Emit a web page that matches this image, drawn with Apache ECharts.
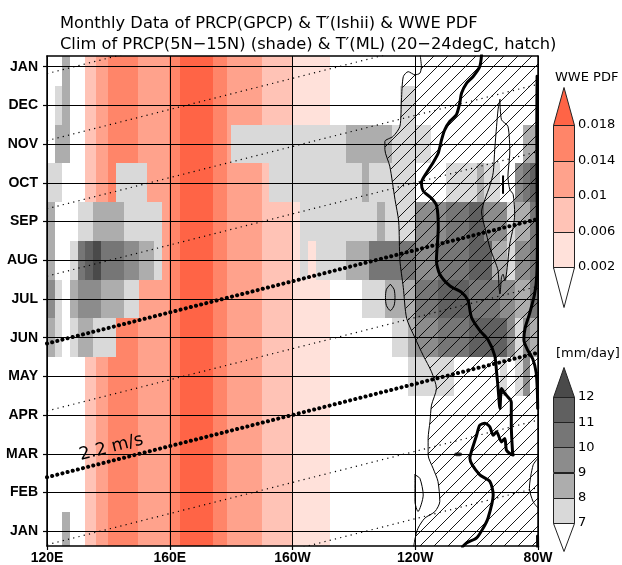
<!DOCTYPE html>
<html>
<head>
<meta charset="utf-8">
<script src="https://cdn.jsdelivr.net/npm/echarts@6/dist/echarts.min.js"></script>
<style>
html, body { margin: 0; padding: 0; background: #fff; }
#chart { width: 622px; height: 565px; }
</style>
</head>
<body>
<div id="chart"></div>
<script>
// ---------- axes ----------
const monthLabels = ['JAN','FEB','MAR','APR','MAY','JUN','JUL','AUG','SEP','OCT','NOV','DEC','JAN'];
const monthTicks = [0,1,2,3,4,5,6,7,8,9,10,11,12];
const lonLabels = ['120E','160E','160W','120W','80W'];
const lonMin = 120, lonMax = 280, lonStep = 40;
const monthMin = -0.378, monthMax = 12.275;

// ---------- WWE PDF (longitude bands) ----------
const wweBandEdges = [132.5, 136, 140, 149.5, 159.8, 163.5, 174.2, 178.7, 190.1, 199.8, 212.2];
const wwePdf = [0.008, 0.012, 0.016, 0.012, 0.016, 0.020, 0.016, 0.012, 0.008, 0.004];
const wweLevels = [0.002, 0.006, 0.010, 0.014, 0.018];
const wweColors = ['#ffe1da', '#ffc3b6', '#ffa28c', '#ff8569', '#ff6446'];

// ---------- PRCP climatology, 5N-15N, 2.5 deg columns from 120E ----------
const prcpLon0 = 120, prcpDLon = 2.5;
const prcpLevels = [7, 8, 9, 10, 11, 12];
const prcpColors = ['#d9d9d9', '#adadad', '#8c8c8c', '#767676', '#606060', '#4a4a4a'];
const prcpJan = [6,6,8.5,6,6,6,6,6, 6,6,6,6,6,6,6,6, 6,6,6,6,6,6,6,6, 6,6,6,6,6,6,6,6, 6,6,6,6,6,6,6,6, 6,6,6,6,6,6,6,6, 6,6,6,6,6,6,6,6, 6,6,6,6,6,6,6,6];
const prcpFeb = [6,6,6,6,6,6,6,6, 6,6,6,6,6,6,6,6, 6,6,6,6,6,6,6,6, 6,6,6,6,6,6,6,6, 6,6,6,6,6,6,6,6, 6,6,6,6,6,6,6,6, 6,6,6,6,6,6,6,6, 6,6,6,6,6,6,6,6];
const prcpMar = [6,6,6,6,6,6,6,6, 6,6,6,6,6,6,6,6, 6,6,6,6,6,6,6,6, 6,6,6,6,6,6,6,6, 6,6,6,6,6,6,6,6, 6,6,6,6,6,6,6,6, 6,6,6,6,6,6,6,6, 6,6,6,6,6,6,6,6];
const prcpApr = [6,6,6,6,6,6,6,6, 6,6,6,6,6,6,6,6, 6,6,6,6,6,6,6,6, 6,6,6,6,6,6,6,6, 6,6,6,6,6,6,6,6, 6,6,6,6,6,6,6,6, 6,6,6,6,6,6,6,6, 6,6,6,6,6,6,6,6];
const prcpMay = [6,6,6,6,6,6,6,6, 6,6,6,6,6,6,6,6, 6,6,6,6,6,6,6,6, 6,6,6,6,6,6,6,6, 6,6,6,6,6,6,6,6, 6,6,6,6,6,6,6,7.5, 7.5,7.5,7.5,7.5,7.5,6,6,6, 6,6,6,7.5,6,7.5,9.5,6];
const prcpJun = [8.5,7.5,6,7.5,8.5,8.5,7.5,7.5, 7.5,6,6,6,6,6,6,6, 6,6,6,6,6,6,6,6, 6,6,6,6,6,6,6,6, 6,6,6,6,6,6,6,6, 6,6,6,6,6,7.5,7.5,8.5, 9.5,9.5,9.5,10,10,10.5,10.5,11.5, 11.5,11.5,11.5,11.5,9.5,7.5,9.5,8.5];
const prcpJul = [9.5,7.5,6,8.5,9.5,9.5,9.5,8.5, 8.5,8.5,7.5,7.5,6,6,6,6, 6,6,6,6,6,6,6,6, 6,6,6,6,6,6,6,6, 6,6,6,6,6,6,6,6, 6,7.5,7.5,7.5,8.5,8.5,8.5,8.5, 10,10,10,11.5,11.5,11.5,11.5,10.5, 10.5,10.5,10,9,9,8.5,8.5,10];
const prcpAug = [8.5,6,6,7.5,10.5,11.5,12.5,10.5, 10.5,10.5,9.5,9.5,8.5,8.5,7.5,6, 6,6,6,6,6,6,6,6, 6,6,6,6,6,6,6,6, 6,7.5,6,7.5,7.5,7.5,7.5,8.5, 8.5,8.5,10,10,10,10,10,10, 9.5,9.5,9.5,10.5,10.5,10.5,10.5,11.5, 11.5,11.5,8.5,8.5,7.5,9.5,9.5,10];
const prcpSep = [8.5,6,6,6,7.5,7.5,8.5,8.5, 8.5,8.5,7.5,7.5,7.5,7.5,7.5,6, 6,6,6,6,6,6,6,6, 6,6,6,6,6,6,6,6, 6,7.5,7.5,7.5,7.5,7.5,7.5,7.5, 7.5,7.5,7.5,8.5,7.5,7.5,7.5,7.5, 9,9,9,9,10,10,10,11.5, 11.5,9.5,9.5,9.5,7.5,8.5,8.5,10];
const prcpOct = [7.5,7.5,6,6,6,6,6,6, 6,7.5,7.5,7.5,7.5,6,6,6, 6,6,6,6,6,6,6,6, 6,6,6,6,6,7.5,7.5,7.5, 7.5,7.5,7.5,7.5,7.5,7.5,7.5,7.5, 7.5,8.5,7.5,7.5,7.5,7.5,7.5,7.5, 6,6,6,6,7.5,7.5,7.5,7.5, 8.5,7.5,7.5,6,6,9.5,10.5,11];
const prcpNov = [6,8.5,8.5,6,6,6,6,6, 6,6,6,6,6,6,6,6, 6,6,6,6,6,6,6,6, 7.5,7.5,7.5,7.5,7.5,7.5,7.5,7.5, 7.5,7.5,7.5,7.5,7.5,7.5,7.5,8.5, 8.5,8.5,8.5,8.5,8.5,7.5,7.5,7.5, 7.5,7.5,6,6,6,6,6,6, 6,6,6,6,6,6,8,8];
const prcpDec = [6,7.5,8.5,6,6,6,6,6, 6,6,6,6,6,6,6,6, 6,6,6,6,6,6,6,6, 6,6,6,6,6,6,6,6, 6,6,6,6,6,6,6,6, 6,6,6,6,6,6,7.5,7.5, 6,6,6,6,6,6,6,6, 6,6,6,6,6,6,6,6];

// ---------- 2.2 m/s phase lines ----------
const phaseSlope = 0.0201;            // months per degree of longitude
const thinPhaseStarts = [-2.085, -0.345, 3.11, 6.59, 8.33, 10.09, 11.82];
const thickPhaseStarts = [1.397, 4.85];
const phaseLabelLon = 142;

// ---------- T' contours [lon, month] ----------
const thickContourMain = [[261.6,12.3],[261.0,12.0],[258.8,11.74],[256.7,11.57],[255.1,11.32],[254.5,11.06],[253.4,10.76],[251.3,10.59],[249.6,10.37],[248.6,10.12],[247.5,9.77],[245.8,9.52],[243.7,9.26],[242.0,9.0],[242.6,8.79],[245.3,8.6],[247.0,8.4],[247.5,7.84],[246.9,6.99],[248.0,6.64],[251.3,6.34],[255.1,6.17],[257.2,5.96],[258.3,5.53],[261.0,5.19],[263.7,4.95],[265.9,4.54],[266.5,4.12],[267.0,3.69],[267.6,3.17],[268.1,3.69],[269.2,3.56],[270.2,3.47],[271.3,3.34],[271.3,2.74],[271.7,2.06],[271.9,1.97],[270.8,2.01],[269.7,2.10],[269.2,2.40],[268.1,2.31],[266.5,2.57],[265.4,2.48],[264.3,2.70],[262.7,2.79],[261.0,2.74],[260.0,2.48],[258.3,2.06],[257.8,1.89],[261.0,1.46],[264.3,1.29],[265.4,0.94],[263.7,0.34],[262.1,0.08],[260.0,-0.17],[256.7,-0.30],[255.4,-0.4]];
const thickContourEast = [[279.7,11.75],[279.6,10.5],[279.7,9.0],[279.8,7.5],[279.6,6.6],[278.9,6.13],[277.2,5.61],[275.8,5.25],[275.4,4.95],[276.5,4.7],[278.3,4.45],[279.4,4.1],[279.8,3.6],[279.9,3.17]];
const thickContourStub = [[279.85,-0.12],[279.9,-0.4]];
const thinContourWest = [[241.6,12.3],[242.0,12.0],[241.5,11.83],[239.9,11.79],[237.7,11.87],[236.1,11.74],[235.5,11.14],[235.0,10.46],[232.8,10.2],[230.1,10.07],[230.1,9.86],[231.7,9.43],[233.4,8.57],[234.6,8.0],[235.0,7.0],[236.1,6.3],[237.2,5.5],[239.9,5.0],[242.6,4.54],[245.3,4.12],[246.9,3.69],[245.3,3.26],[244.8,2.83],[244.2,2.4],[244.2,1.97],[245.8,1.63],[247.4,1.29],[248.0,0.77],[246.4,0.51],[243.1,0.34],[240.9,0.08],[239.9,-0.2],[239.5,-0.4]];
const thinContourLoop = [[267.6,11.15],[268.1,10.63],[270.2,10.46],[270.8,9.77],[270.2,9.17],[270.8,8.83],[271.9,8.7],[272.4,8.19],[271.9,7.84],[270.8,7.42],[270.2,6.99],[269.7,6.64],[269.2,6.47],[268.6,6.64],[268.1,6.56],[267.6,6.13],[267.3,6.3],[267.0,6.73],[265.9,6.99],[264.3,7.33],[262.7,7.84],[261.6,8.25],[262.7,8.57],[264.3,8.92],[265.4,9.26],[265.9,9.86],[266.5,10.46],[267.0,10.9],[267.6,11.15]];
const thinContourSmall = [[268.6,9.17],[268.6,8.74]];
const thinContourOval = [[231.9,6.38],[233.1,6.25],[233.4,6.04],[233.1,5.83],[231.9,5.70],[230.6,5.83],[230.3,6.04],[230.6,6.25],[231.9,6.38]];
const thinContourDip = [[239.9,1.46],[241.5,1.37],[242.6,0.94],[240.9,0.51],[239.9,0.77],[239.9,1.2],[239.9,1.46]];
const thinContourCoast = [[280,1.89],[278.4,1.71],[277.2,1.11],[278.4,0.77],[280,0.6]];
const warmSpot = [[254.0, 1.99]];

// ---------- helpers ----------
function levelColor(v, levels, colors) {
  let c = null;
  for (let k = 0; k < levels.length; k++) if (v >= levels[k]) c = colors[k];
  return c;
}
function clampRect(a, b, cs) {
  const x0 = Math.max(cs.x, Math.round(Math.min(a[0], b[0])));
  const x1 = Math.min(cs.x + cs.width, Math.round(Math.max(a[0], b[0])));
  const y0 = Math.max(cs.y, Math.round(Math.min(a[1], b[1])));
  const y1 = Math.min(cs.y + cs.height, Math.round(Math.max(a[1], b[1])));
  return { x: x0, y: y0, width: Math.max(0, x1 - x0), height: Math.max(0, y1 - y0) };
}
function makeHatch() {
  const c = document.createElement('canvas');
  c.width = 14; c.height = 14;
  const g = c.getContext('2d');
  g.strokeStyle = '#000'; g.lineWidth = 0.9;
  g.beginPath();
  g.moveTo(-1, 15); g.lineTo(15, -1);
  g.moveTo(-1, 1); g.lineTo(1, -1);
  g.moveTo(13, 15); g.lineTo(15, 13);
  g.stroke();
  return c;
}
const hatchPattern = { image: makeHatch(), repeat: 'repeat' };

// band data
const bandData = wwePdf.map((p, i) => [wweBandEdges[i], wweBandEdges[i + 1], p]);
// cell data, JAN repeated at the top
const prcpRows = [prcpJan, prcpFeb, prcpMar, prcpApr, prcpMay, prcpJun, prcpJul, prcpAug, prcpSep, prcpOct, prcpNov, prcpDec];
const cellData = [];
for (let m = 0; m <= 12; m++) {
  prcpRows[m % 12].forEach((v, i) => {
    if (v >= prcpLevels[0]) cellData.push([prcpLon0 + i * prcpDLon, m, v]);
  });
}

const FONT_AX = "'Liberation Sans Narrow', 'Liberation Sans', Arial, sans-serif";
const FONT_TX = "'DejaVu Sans', sans-serif";

const series = [];
// WWE PDF bands
series.push({
  type: 'custom', xAxisIndex: 0, yAxisIndex: 0, z: 1, silent: true,
  data: bandData,
  renderItem: (params, api) => {
    const a = api.coord([api.value(0), monthMax]);
    const b = api.coord([api.value(1), monthMin]);
    return { type: 'rect', shape: clampRect(a, b, params.coordSys),
             style: { fill: levelColor(api.value(2), wweLevels, wweColors) } };
  }
});
// PRCP cells
series.push({
  type: 'custom', xAxisIndex: 0, yAxisIndex: 0, z: 2, silent: true,
  data: cellData,
  renderItem: (params, api) => {
    const lon = api.value(0), m = api.value(1);
    const a = api.coord([lon, m + 0.5]);
    const b = api.coord([lon + prcpDLon, m - 0.5]);
    return { type: 'rect', shape: clampRect(a, b, params.coordSys),
             style: { fill: levelColor(api.value(2), prcpLevels, prcpColors) } };
  }
});
// hatch east of the western contour
series.push({
  type: 'custom', xAxisIndex: 0, yAxisIndex: 0, z: 3, silent: true,
  data: [[0]],
  renderItem: (params, api) => {
    const cs = params.coordSys;
    const pts = thinContourWest.map(p => api.coord(p));
    pts.push(api.coord([lonMax, monthMin]));
    pts.push(api.coord([lonMax, monthMax]));
    const cl = pts.map(p => [Math.min(Math.max(p[0], cs.x), cs.x + cs.width), Math.min(Math.max(p[1], cs.y), cs.y + cs.height)]);
    return { type: 'polygon', shape: { points: cl, smooth: 0 }, style: { fill: hatchPattern, stroke: null } };
  }
});
// contours
function contour(data, width) {
  series.push({ type: 'line', xAxisIndex: 0, yAxisIndex: 0, z: 4, silent: true, data: data,
    showSymbol: false, symbol: 'none', smooth: 0.25, clip: true,
    lineStyle: { color: '#000', width: width, join: 'round', cap: 'round' } });
}
contour(thickContourMain, 3);
contour(thickContourEast, 3);
contour(thickContourStub, 3);
contour(thinContourWest, 1);
contour(thinContourLoop, 1);
contour(thinContourSmall, 2);
contour(thinContourOval, 1);
contour(thinContourDip, 1);
contour(thinContourCoast, 1);
series.push({ type: 'scatter', xAxisIndex: 0, yAxisIndex: 0, z: 4, silent: true, data: warmSpot,
  symbol: 'circle', symbolSize: [8, 4], itemStyle: { color: '#000' } });

// phase lines
function phaseLine(m0, thick) {
  series.push({ type: 'line', xAxisIndex: 0, yAxisIndex: 0, z: 5, silent: true, clip: true,
    showSymbol: false, symbol: 'none',
    data: [[lonMin, m0], [lonMax, m0 + phaseSlope * (lonMax - lonMin)]],
    lineStyle: thick ? { color: '#000', width: 4, type: [0.1, 5.2], cap: 'round' }
                     : { color: '#000', width: 1.2, type: [1.2, 4.2], cap: 'butt' } });
}
thinPhaseStarts.forEach(m => phaseLine(m, false));
thickPhaseStarts.forEach(m => phaseLine(m, true));
// phase speed label along the lower thick line
series.push({
  type: 'custom', xAxisIndex: 0, yAxisIndex: 0, z: 6, silent: true,
  data: [[phaseLabelLon, thickPhaseStarts[0] + phaseSlope * (phaseLabelLon - lonMin)]],
  renderItem: (params, api) => {
    const p = api.coord([api.value(0), api.value(1)]);
    const q = api.coord([api.value(0) + 10, api.value(1) + phaseSlope * 10]);
    const ang = Math.atan2(p[1] - q[1], q[0] - p[0]);
    return { type: 'text', x: p[0], y: p[1], rotation: ang,
      style: { text: '2.2 m/s', x: 0, y: -4, align: 'center', verticalAlign: 'bottom',
               font: "17.5px 'DejaVu Sans', sans-serif", fill: '#000' } };
  }
});

// colour bars
function colorBar(levels, colors, xIdx, yIdx, topH, botH) {
  const data = [];
  for (let k = 0; k < levels.length - 1; k++) data.push([levels[k], levels[k + 1], k, 0]);
  data.push([levels[levels.length - 1], levels[levels.length - 1], levels.length - 1, 1]);
  data.push([levels[0], levels[0], -1, -1]);
  series.push({
    type: 'custom', xAxisIndex: xIdx, yAxisIndex: yIdx, z: 6, silent: true, clip: false,
    data: data,
    renderItem: (params, api) => {
      const kind = api.value(3);
      const a = api.coord([0, api.value(1)]);
      const b = api.coord([1, api.value(0)]);
      const fill = api.value(2) >= 0 ? colors[api.value(2)] : '#fff';
      const st = { fill: fill, stroke: '#222', lineWidth: 1 };
      if (kind === 0) {
        return { type: 'rect', shape: { x: Math.round(a[0]) + 0.5, y: Math.round(a[1]) + 0.5,
                 width: Math.round(b[0] - a[0]), height: Math.round(b[1] - a[1]) }, style: st };
      }
      const x0 = Math.round(a[0]) + 0.5, x1 = Math.round(b[0]) + 0.5, y = Math.round(a[1]) + 0.5;
      const apex = kind > 0 ? y - topH : y + botH;
      return { type: 'polygon', shape: { points: [[x0, y], [x1, y], [(x0 + x1) / 2, apex]] }, style: st };
    }
  });
}
colorBar(wweLevels, wweColors, 2, 2, 38, 40);
colorBar(prcpLevels, prcpColors, 3, 3, 30, 28);

const chart = echarts.init(document.getElementById('chart'), null, { renderer: 'canvas' });
chart.setOption({
  animation: false,
  backgroundColor: '#fff',
  title: {
    text: 'Monthly Data of PRCP(GPCP) & T\u2032(Ishii) & WWE PDF\nClim of PRCP(5N\u221215N) (shade) & T\u2032(ML) (20\u221224degC, hatch)',
    left: 55, top: 8,
    textStyle: { fontFamily: FONT_TX, fontSize: 16.3, fontWeight: 'normal', color: '#000', lineHeight: 21 }
  },
  graphic: [
    { type: 'text', left: 555, top: 71, style: { text: 'WWE PDF', font: "13px 'DejaVu Sans', sans-serif", fill: '#000' } },
    { type: 'text', left: 556, top: 347, style: { text: '[mm/day]', font: "13px 'DejaVu Sans', sans-serif", fill: '#000' } }
  ],
  grid: [
    { left: 47, top: 56, width: 491, height: 492 },
    { left: 553, top: 125, width: 21, height: 142 },
    { left: 553, top: 397, width: 21, height: 126 }
  ],
  xAxis: [
    { gridIndex: 0, type: 'value', min: lonMin, max: lonMax, interval: lonStep, z: 8,
      axisLine: { show: true, onZero: false, lineStyle: { color: '#000', width: 1.5 } },
      axisTick: { show: true, inside: false, length: 4, lineStyle: { color: '#000', width: 1.2 } },
      axisLabel: { show: true, margin: 5, showMinLabel: true, showMaxLabel: true,
        formatter: v => lonLabels[Math.round((v - lonMin) / lonStep)],
        fontFamily: FONT_AX, fontWeight: 'bold', fontSize: 14, color: '#000' },
      splitLine: { show: true, lineStyle: { color: '#000', width: 1 } } },
    { gridIndex: 0, type: 'value', min: lonMin, max: lonMax, position: 'top', z: 8,
      axisLine: { show: true, onZero: false, lineStyle: { color: '#000', width: 1.5 } },
      axisTick: { show: false }, axisLabel: { show: false }, splitLine: { show: false } },
    { gridIndex: 1, type: 'value', min: 0, max: 1, show: false },
    { gridIndex: 2, type: 'value', min: 0, max: 1, show: false }
  ],
  yAxis: [
    { gridIndex: 0, type: 'value', min: monthMin, max: monthMax, z: 8,
      axisLine: { show: true, onZero: false, lineStyle: { color: '#000', width: 1.5 } },
      axisTick: { show: true, inside: false, length: 4, customValues: monthTicks, lineStyle: { color: '#000', width: 1.2 } },
      axisLabel: { show: true, margin: 9, customValues: monthTicks,
        formatter: v => monthLabels[Math.round(v)],
        fontFamily: FONT_AX, fontWeight: 'bold', fontSize: 14, color: '#000' },
      splitLine: { show: true, lineStyle: { color: '#000', width: 1 } } },
    { gridIndex: 0, type: 'value', min: monthMin, max: monthMax, position: 'right', z: 8,
      axisLine: { show: true, onZero: false, lineStyle: { color: '#000', width: 1.5 } },
      axisTick: { show: false }, axisLabel: { show: false }, splitLine: { show: false } },
    { gridIndex: 1, type: 'value', min: wweLevels[0], max: wweLevels[wweLevels.length - 1], interval: 0.004,
      position: 'right', axisLine: { show: false }, axisTick: { show: false }, splitLine: { show: false },
      axisLabel: { show: true, margin: 4, formatter: v => String(+v.toFixed(3)),
        fontFamily: FONT_TX, fontSize: 13, color: '#000' } },
    { gridIndex: 2, type: 'value', min: prcpLevels[0], max: prcpLevels[prcpLevels.length - 1], interval: 1,
      position: 'right', axisLine: { show: false }, axisTick: { show: false }, splitLine: { show: false },
      axisLabel: { show: true, margin: 4, fontFamily: FONT_TX, fontSize: 13, color: '#000' } }
  ],
  series: series
});
</script>
</body>
</html>
